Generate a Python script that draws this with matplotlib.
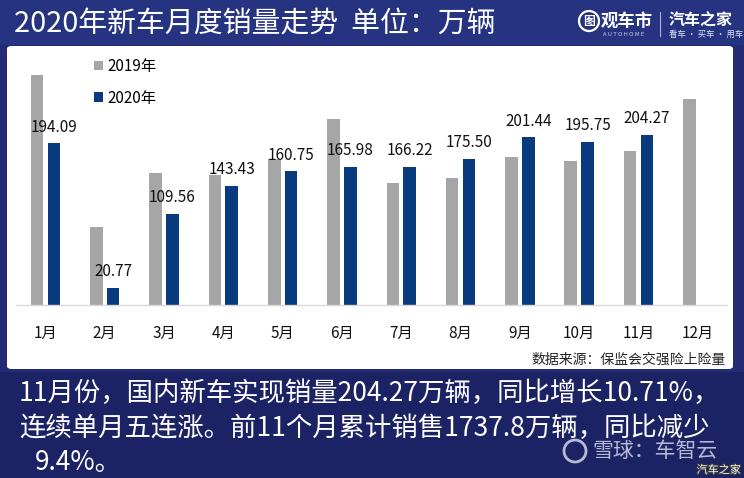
import numpy as np
import matplotlib
matplotlib.use("Agg")
import matplotlib.pyplot as plt
from matplotlib.patches import FancyBboxPatch, Rectangle, Ellipse
from matplotlib.lines import Line2D
import matplotlib.patheffects as pe

plt.rcParams['font.family'] = ['Noto Sans CJK SC', 'DejaVu Sans']

months = ['1月', '2月', '3月', '4月', '5月', '6月', '7月', '8月', '9月', '10月', '11月', '12月']
sales_2019 = [276, 94, 158, 156, 175, 223, 146, 153, 178, 173, 184.5, 247]
sales_2020 = [194.09, 20.77, 109.56, 143.43, 160.75, 165.98, 166.22, 175.50, 201.44, 195.75, 204.27]

title = '2020年新车月度销量走势  单位：万辆'
source = '数据来源：保监会交强险上险量'
note_lines = ['11月份，国内新车实现销量204.27万辆，同比增长10.71%，',
              '连续单月五连涨。前11个月累计销售1737.8万辆，同比减少',
              '9.4%。']

W, H = 744, 478
def fx(px):
    return px / W
def fy(py):
    return 1 - py / H

def ring(cx, cy, r, **kw):
    # round circle in pixel units, placed in figure coords
    return Ellipse((fx(cx), fy(cy)), 2 * r / W, 2 * r / H, transform=fig.transFigure,
                   facecolor='none', **kw)

fig = plt.figure(figsize=(7.44, 4.78), dpi=100)
fig.patch.set_facecolor('#222b74')

# header and bottom bands
fig.patches.append(Rectangle((0, fy(45)), 1, 45 / H, transform=fig.transFigure,
                             facecolor='#253381', edgecolor='none', zorder=-2))
fig.patches.append(Rectangle((0, 0), 1, fy(372), transform=fig.transFigure,
                             facecolor='#1c2364', edgecolor='none', zorder=-2))
# white chart panel
fig.patches.append(FancyBboxPatch((fx(7), fy(369)), fx(733) - fx(7), fy(46) - fy(369),
                                  boxstyle='round,pad=0,rounding_size=0.006',
                                  transform=fig.transFigure, facecolor='white',
                                  edgecolor='none', zorder=-1))

# title + logo
fig.text(fx(14), fy(25), title, color='white', fontsize=20.8, va='center', ha='left',
         fontweight='light')
fig.patches.append(ring(589, 21, 10, edgecolor='white', lw=1.6))
fig.text(fx(589), fy(21), '图', color='white', fontsize=8.5, ha='center', va='center',
         fontweight='bold')
fig.text(fx(601), fy(21), '观车市', color='white', fontsize=12.5, ha='left', va='center',
         fontweight='bold', style='italic')
fig.text(fx(603), fy(35), 'A U T O H O M E', color='#c8cde8', fontsize=4.2, ha='left',
         va='center', style='italic')
fig.lines.append(Line2D([fx(660), fx(660)], [fy(12), fy(36)], transform=fig.transFigure,
                        color='#aab0d8', lw=0.8))
fig.text(fx(669), fy(20), '汽车之家', color='white', fontsize=11.5, ha='left', va='center',
         fontweight='bold')
fig.text(fx(669), fy(34), '看车 · 买车 · 用车', color='#dfe2f2', fontsize=6, ha='left',
         va='center')

# bar chart
ax = fig.add_axes([fx(15.75), fy(305.3), 711.7 / W, 250.5 / H])
ax.set_facecolor('none')
x = np.arange(len(months))
w = 0.212
off = 0.142
ax.bar(x - off, sales_2019, w, color='#a6a6a6', label='2019年')
ax.bar(x[:len(sales_2020)] + off, sales_2020, w, color='#073b7e', label='2020年')
for xi, v in zip(x, sales_2020):
    ax.annotate(f'{v:.2f}', (xi + off, v), xytext=(0, 11.5), textcoords='offset points',
                ha='center', va='center', fontsize=11, color='#111111')
ax.set_xlim(-0.5, 11.5)
ax.set_ylim(0, 300)
ax.set_xticks(x, months)
ax.tick_params(axis='x', length=0, pad=14, labelsize=11, colors='#111111')
ax.set_yticks([])
for s in ['top', 'right', 'left']:
    ax.spines[s].set_visible(False)
ax.spines['bottom'].set_color('#d9d9d9')
ax.spines['bottom'].set_linewidth(1)

ax.legend(loc='upper left', bbox_to_anchor=(fx(94), fy(58)), bbox_transform=fig.transFigure,
          frameon=False, fontsize=11, handlelength=0.6, handleheight=0.6,
          handletextpad=0.3, labelspacing=0.95, borderpad=0, borderaxespad=0)

fig.text(fx(726), fy(360), source, fontsize=10, ha='right', va='center', color='#222222')

# bottom note
ys = [393, 428, 462]
xs = [19, 19, 35]
for line, yy, xx in zip(note_lines, ys, xs):
    fig.text(fx(xx), fy(yy), line, color='white', fontsize=19, ha='left', va='center',
             fontweight='light')

# watermark
fig.patches.append(ring(575, 451, 11, edgecolor='#c9cce0', lw=2, alpha=0.9))
fig.text(fx(592), fy(451), '雪球：车智云', color='#c9cce0', fontsize=15, ha='left',
         va='center', alpha=0.9)
fig.text(fx(741), fy(470), '汽车之家', color='white', fontsize=8, ha='right', va='center',
         path_effects=[pe.withStroke(linewidth=1.5, foreground='#333333')])

fig.savefig('out.png', dpi=100, facecolor=fig.get_facecolor())
